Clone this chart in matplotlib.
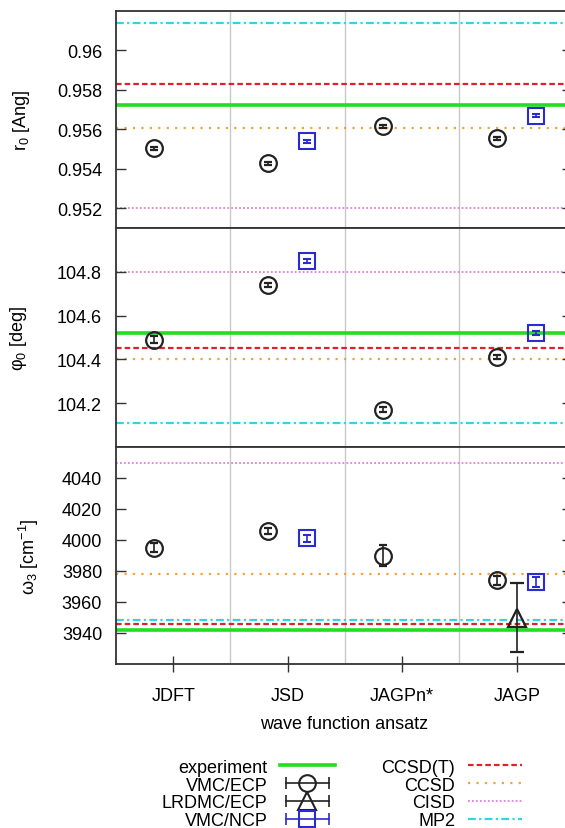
import numpy as np
import matplotlib
matplotlib.use("Agg")
import matplotlib.pyplot as plt
from matplotlib.lines import Line2D
from matplotlib.legend_handler import HandlerLine2D, HandlerTuple

plt.rcParams['font.family'] = ['Liberation Sans', 'DejaVu Sans']
plt.rcParams['mathtext.fontset'] = 'custom'
plt.rcParams['mathtext.rm'] = 'Liberation Sans'
plt.rcParams['mathtext.default'] = 'regular'
plt.rcParams['font.size'] = 13

# --- data ---
categories = ['JDFT', 'JSD', 'JAGPn*', 'JAGP']
ncp_idx = [1, 3]      # VMC/NCP only for JSD and JAGP
lrdmc_idx = [3]       # LRDMC/ECP only for JAGP

# r0 [Ang]
r0_ref = {'experiment': 0.95722, 'CCSD(T)': 0.95832, 'CCSD': 0.95605,
          'CISD': 0.9520, 'MP2': 0.9614}
r0_vmc_ecp = [0.95504, 0.95427, 0.95615, 0.95554]
r0_vmc_ecp_err = [0.00008, 0.00008, 0.00008, 0.00008]
r0_vmc_ncp = [0.95539, 0.95670]
r0_vmc_ncp_err = [0.00008, 0.00008]

# phi0 [deg]
phi_ref = {'experiment': 104.52, 'CCSD(T)': 104.45, 'CCSD': 104.40,
           'CISD': 104.80, 'MP2': 104.11}
phi_vmc_ecp = [104.49, 104.74, 104.17, 104.41]
phi_vmc_ecp_err = [0.015, 0.01, 0.012, 0.01]
phi_vmc_ncp = [104.85, 104.52]
phi_vmc_ncp_err = [0.01, 0.008]

# omega3 [cm-1]
om_ref = {'experiment': 3942, 'CCSD(T)': 3946, 'CCSD': 3978,
          'CISD': 4050, 'MP2': 3948.5}
om_vmc_ecp = [3995, 4006, 3990, 3974]
om_vmc_ecp_err = [3, 2, 6.5, 3]
om_vmc_ncp = [4001, 3973]
om_vmc_ncp_err = [2.5, 3]
om_lrdmc = [3950]
om_lrdmc_err = [22]

# --- styles ---
ref_style = {
    'experiment': dict(color='#22dd22', lw=2.6, ls='-'),
    'CCSD(T)': dict(color='#e0202a', lw=1.6, dashes=(2.5, 1.4)),
    'CCSD': dict(color='#f0a438', lw=1.6, dashes=(1, 2.8)),
    'CISD': dict(color='#e07ee0', lw=1.3, dashes=(1, 1.2)),
    'MP2': dict(color='#30d4e4', lw=1.6, dashes=(3.5, 1.5, 1, 1.5)),
}
ref_order = ['CISD', 'CCSD', 'MP2', 'CCSD(T)', 'experiment']

W, H = 565, 829
fig = plt.figure(figsize=(W / 100, H / 100), dpi=100)

left_px, right_px = 116, 572
panels_px = [(12, 229), (229, 448), (448, 665)]

x = np.arange(1, len(categories) + 1)
off = 0.17


def make_ax(top, bot):
    return fig.add_axes([left_px / W, 1 - bot / H, (right_px - left_px) / W,
                         (bot - top) / H])


def draw_panel(ax, ref, ecp, ecp_err, ncp, ncp_err, lr=None, lr_err=None):
    for xv in [1.5, 2.5, 3.5]:
        ax.axvline(xv, color='#c8c8c8', lw=1.0, zorder=0)
    for name in ref_order:
        ax.axhline(ref[name], zorder=1, **ref_style[name])
    ax.errorbar(x - off, ecp, yerr=ecp_err, fmt='o', ms=12, mfc='none',
                mec='#222222', mew=1.6, ecolor='#222222', elinewidth=1.2,
                capsize=3, capthick=1.2, zorder=3)
    ax.errorbar(x[ncp_idx] + off, ncp, yerr=ncp_err, fmt='s', ms=12, mfc='none',
                mec='#2b2bd0', mew=1.5, ecolor='#2b2bd0', elinewidth=1.2,
                capsize=3, capthick=1.2, zorder=3)
    if lr is not None:
        ax.errorbar(x[lrdmc_idx], lr, yerr=lr_err, fmt='^', ms=13, mfc='none',
                    mec='#222222', mew=1.6, ecolor='#222222', elinewidth=1.2,
                    capsize=5, capthick=1.2, zorder=3)
    ax.set_xlim(0.5, 0.5 + (right_px - left_px) / 114.5)
    for s in ax.spines.values():
        s.set_color('#333333')
        s.set_linewidth(1.3)
    ax.tick_params(axis='y', direction='in', length=7, width=1.0, pad=10,
                   right=True, left=True, color='#333333')


ax1 = make_ax(*panels_px[0])
draw_panel(ax1, r0_ref, r0_vmc_ecp, r0_vmc_ecp_err, r0_vmc_ncp, r0_vmc_ncp_err)
ax1.set_ylim(0.951, 0.962)
ax1.set_yticks([0.952, 0.954, 0.956, 0.958, 0.96])
ax1.set_yticklabels(['0.952', '0.954', '0.956', '0.958', '0.96'])
ax1.set_xticks([])
ax1.set_ylabel('r$_0$ [Ang]')
ax1.yaxis.set_label_coords(-0.184, 0.5)

ax2 = make_ax(*panels_px[1])
draw_panel(ax2, phi_ref, phi_vmc_ecp, phi_vmc_ecp_err, phi_vmc_ncp, phi_vmc_ncp_err)
ax2.set_ylim(104.0, 105.0)
ax2.set_yticks([104.2, 104.4, 104.6, 104.8])
ax2.set_yticklabels(['104.2', '104.4', '104.6', '104.8'])
ax2.set_xticks([])
ax2.set_ylabel('φ$_0$ [deg]')
ax2.yaxis.set_label_coords(-0.19, 0.5)

ax3 = make_ax(*panels_px[2])
draw_panel(ax3, om_ref, om_vmc_ecp, om_vmc_ecp_err, om_vmc_ncp, om_vmc_ncp_err,
           om_lrdmc, om_lrdmc_err)
ax3.set_ylim(3920, 4060)
ax3.set_yticks(np.arange(3940, 4041, 20))
ax3.set_xticks(x)
ax3.set_xticklabels(categories)
ax3.tick_params(axis='x', direction='inout', length=11, width=1.0,
                color='#333333', pad=11)
ax3.set_ylabel('ω$_3$ [cm$^{-1}$]')
ax3.yaxis.set_label_coords(-0.165, 0.5)
ax3.set_xlabel('wave function ansatz', labelpad=8)

# --- legend (gnuplot style: text then sample) ---
def eb_handle(marker, color, ms):
    bar = Line2D([], [], color=color, lw=1.2, marker='|', ms=8, mew=1.2)
    mk = Line2D([], [], ls='none', marker=marker, ms=ms, mfc='none',
                mec=color, mew=1.5)
    return (bar, mk)

h_exp = Line2D([], [], **ref_style['experiment'])
h_ecp = eb_handle('o', '#222222', 12)
h_lr = eb_handle('^', '#222222', 13)
h_ncp = eb_handle('s', '#2b2bd0', 12)
h_refs = [Line2D([], [], **ref_style[n]) for n in ['CCSD(T)', 'CCSD', 'CISD', 'MP2']]

handler_map = {h[0]: HandlerLine2D(numpoints=2) for h in [h_ecp, h_lr, h_ncp]}
handler_map[tuple] = HandlerTuple(ndivide=1)

handles = [h_exp, h_ecp, h_lr, h_ncp] + h_refs
labels = ['experiment', 'VMC/ECP', 'LRDMC/ECP', 'VMC/NCP',
          'CCSD(T)', 'CCSD', 'CISD', 'MP2']
fig.legend(handles, labels, ncol=2, markerfirst=False, frameon=False,
           loc='upper center', bbox_to_anchor=(342 / W, 1 - 747 / H),
           handlelength=3.0, handletextpad=0.7, columnspacing=2.6,
           labelspacing=0.05, handler_map=handler_map, borderpad=0.2)

fig.savefig('out.png', dpi=100)
